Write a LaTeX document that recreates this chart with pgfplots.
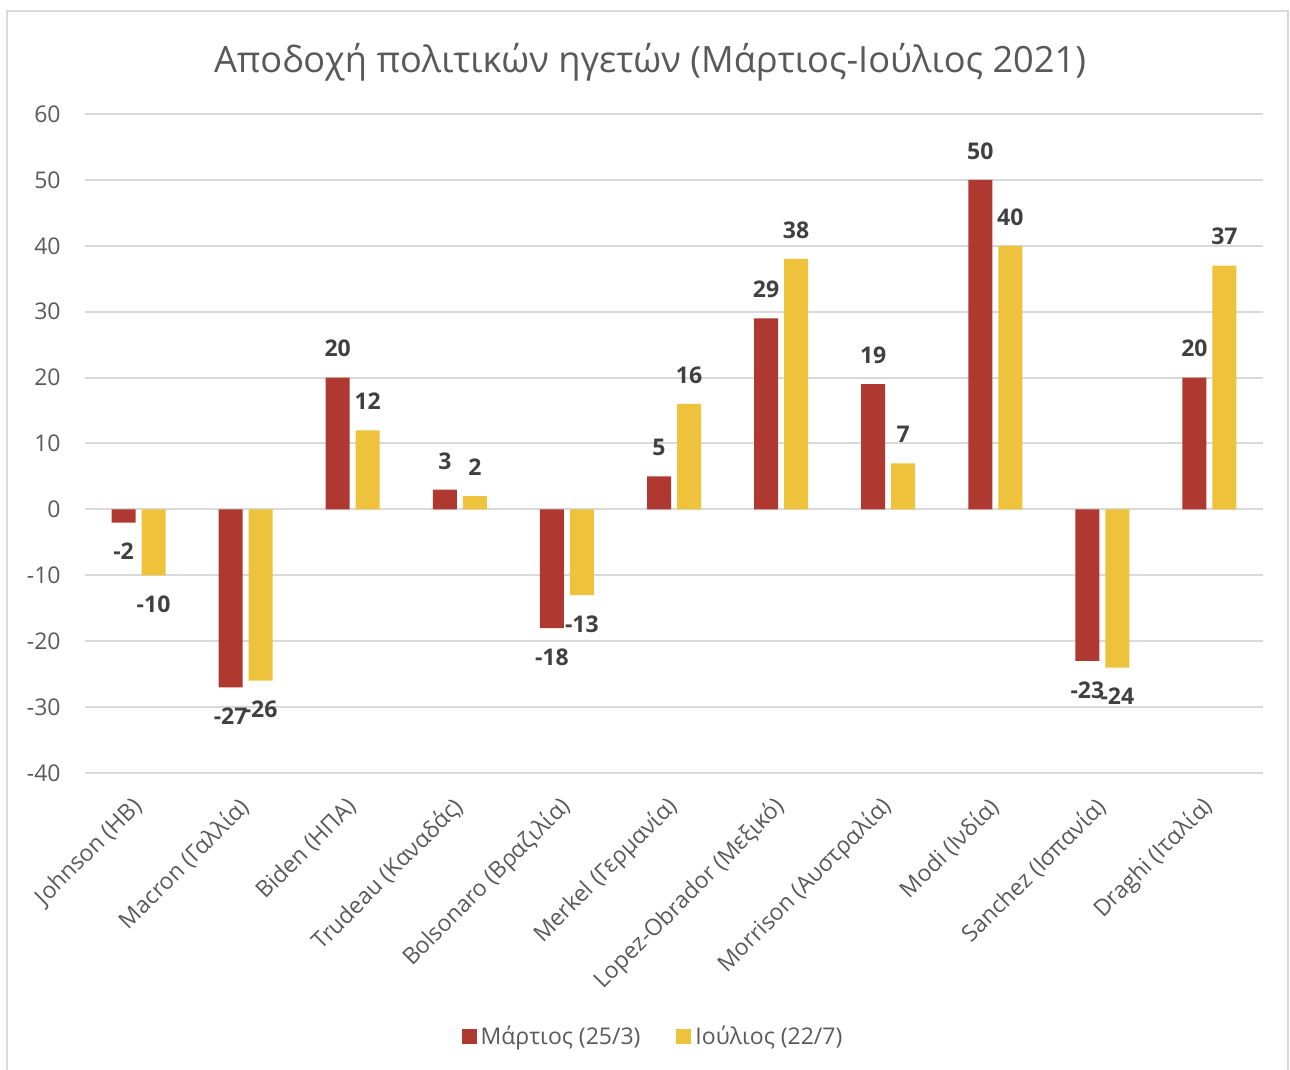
\documentclass[border=0pt]{standalone}
\usepackage{pgfplots}
\pgfplotsset{compat=1.18}
\usepackage{fontspec}
\setmainfont{Open Sans}
\definecolor{cred}{HTML}{AF3830}
\definecolor{cyel}{HTML}{EEC23A}
\definecolor{tgrey}{HTML}{595959}
\definecolor{dgrey}{HTML}{404040}
\definecolor{gridc}{HTML}{D9D9D9}
\begin{document}
\begin{tikzpicture}
\useasboundingbox (0,0) rectangle (645pt,535pt);
\draw[color=gridc, line width=1pt] (3.5pt,0pt) -- (3.5pt,529.5pt) -- (644pt,529.5pt) -- (644pt,0pt);
\node[font=\fontsize{18.1}{22}\selectfont, text=tgrey] at (325pt,504pt) {Αποδοχή πολιτικών ηγετών (Μάρτιος-Ιούλιος 2021)};
\begin{axis}[
  at={(42.5pt,148.5pt)}, anchor=south west,
  width=589pt, height=329.5pt, scale only axis,
  ymin=-40, ymax=60, ytick={-40,-30,...,60},
  xmin=-0.5, xmax=10.5, xtick={0,...,10},
  xticklabels={Johnson (ΗΒ),Macron (Γαλλία),Biden (ΗΠΑ),Trudeau (Καναδάς),Bolsonaro (Βραζιλία),Merkel (Γερμανία),Lopez-Obrador (Μεξικό),Morrison (Αυστραλία),Modi (Ινδία),Sanchez (Ισπανία),Draghi (Ιταλία)},
  /pgf/number format/assume math mode=true,
  axis line style={draw=none},
  major tick length=0pt,
  ymajorgrids, grid style={color=gridc, line width=1pt},
  tick label style={font=\fontsize{11.5}{14}\selectfont, text=tgrey},
  yticklabel style={inner sep=0pt, xshift=-12pt},
  xticklabel style={yshift=-15pt, rotate=45, anchor=east, inner sep=0pt},
  ybar=3pt, bar width=12pt,
  nodes near coords={\pgfmathprintnumber{\pgfplotspointmeta}},
  every node near coord/.append style={font=\fontsize{11.5}{14}\selectfont\bfseries, text=dgrey, inner ysep=10pt},
  legend columns=-1,
  legend style={at={(0.483,-0.40)}, anchor=center, draw=none, fill=none,
    font=\fontsize{11.5}{14}\selectfont, text=tgrey,
    /tikz/every even column/.append style={column sep=16pt}},
  legend image code/.code={\fill[#1] (0pt,-3.75pt) rectangle (7.5pt,3.75pt);},
]
\addplot[fill=cred, draw=none] coordinates {(0,-2) (1,-27) (2,20) (3,3) (4,-18) (5,5) (6,29) (7,19) (8,50) (9,-23) (10,20)};
\addplot[fill=cyel, draw=none] coordinates {(0,-10) (1,-26) (2,12) (3,2) (4,-13) (5,16) (6,38) (7,7) (8,40) (9,-24) (10,37)};
\legend{Μάρτιος (25/3),Ιούλιος (22/7)}
\end{axis}
\end{tikzpicture}
\end{document}
